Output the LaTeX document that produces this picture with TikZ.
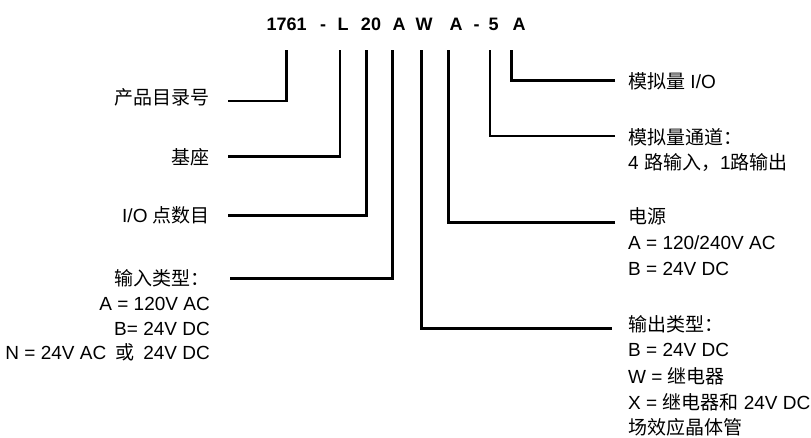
\documentclass[tikz,border=0pt]{standalone}
\usepackage{fontspec}
\setmainfont{Liberation Sans}
\newfontfamily\cjk{Noto Sans CJK SC}
\newcommand\zh[1]{{\cjk #1}}
\begin{document}
\begin{tikzpicture}[x=1pt,y=-1pt,
  lbl/.style={font=\fontsize{19}{21}\selectfont, inner sep=0pt, text height=13.6pt, text depth=0pt},
  lblL/.style={lbl, anchor=east},
  lblR/.style={lbl, anchor=west},
  tok/.style={font=\fontsize{18}{20}\selectfont\bfseries, inner sep=0pt, text height=12.9pt, text depth=0pt},
  wire/.style={line width=2.7pt, line join=miter}]
\useasboundingbox (0,0) rectangle (811,438);
% title tokens
\node[tok] (t1) at (286.7,24.5) {1761};
\node[tok] (d1) at (323,24.5) {-};
\node[tok] (t2) at (343,24.5) {L};
\node[tok] (t3) at (371,24.5) {20};
\node[tok] (t4) at (399,24.5) {A};
\node[tok] (t5) at (424,24.5) {W};
\node[tok] (t6) at (456,24.5) {A};
\node[tok] (d2) at (476.5,24.5) {-};
\node[tok] (t7) at (493.5,24.5) {5};
\node[tok] (t8) at (519,24.5) {A};
% tick tops
\coordinate (k1) at (286.7,50);
\coordinate (k2) at (340,50);
\coordinate (k3) at (366.7,50);
\coordinate (k4) at (392.7,50);
\coordinate (k5) at (421.7,50);
\coordinate (k6) at (448.3,50);
\coordinate (k7) at (490,50);
\coordinate (k8) at (511.7,50);
% left labels
\node[lblL] (l1) at (210,98) {\zh{产品目录号}};
\node[lblL] (l2) at (210,158) {\zh{基座}};
\node[lblL] (l3) at (210,216) {I/O \zh{点数目}};
\node[lblL] (l4) at (210,279) {\zh{输入类型：}};
\node[lblL] (l4a) at (210,303.7) {A = 120V AC};
\node[lblL] (l4b) at (210,328.3) {B= 24V DC};
\node[lblL] (l4c) at (210,353) {N = 24V AC\hspace{9pt}\zh{或}\hspace{9pt}24V DC};
% right labels
\node[lblR] (r8) at (628,82) {\zh{模拟量} I/O};
\node[lblR] (r7) at (628,137.5) {\zh{模拟量通道：}};
\node[lblR] (r7a) at (628,162.5) {4 \zh{路输入，}1\zh{路输出}};
\node[lblR] (r6) at (628,217) {\zh{电源}};
\node[lblR] (r6a) at (628,243) {A = 120/240V AC};
\node[lblR] (r6b) at (628,269) {B = 24V DC};
\node[lblR] (r5) at (628,325) {\zh{输出类型：}};
\node[lblR] (r5a) at (628,350) {B = 24V DC};
\node[lblR] (r5b) at (628,376.5) {W = \zh{继电器}};
\node[lblR] (r5c) at (628,402.5) {X = \zh{继电器和} 24V DC};
\node[lblR] (r5d) at (628,428) {\zh{场效应晶体管}};
% line ends near labels
\coordinate (s1) at (228,101);
\coordinate (s2) at (228,156.7);
\coordinate (s3) at (228,215.7);
\coordinate (s4) at (230,278.3);
\coordinate (s5) at (611.7,328.3);
\coordinate (s6) at (615,222.3);
\coordinate (s7) at (615,136);
\coordinate (s8) at (615,80.7);
\foreach \i in {1,...,8} {\draw[wire] (s\i) -| (k\i);}
\end{tikzpicture}
\end{document}
